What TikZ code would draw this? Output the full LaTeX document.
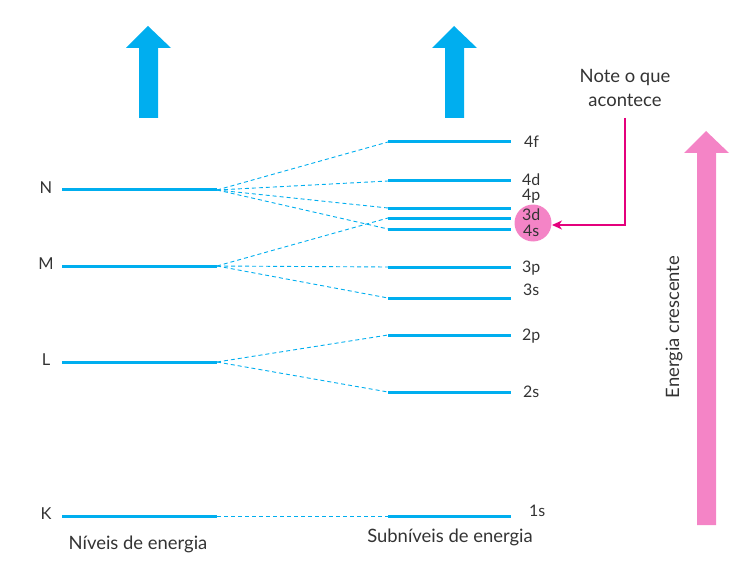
\documentclass[tikz,border=0pt]{standalone}
\usepackage{fontspec}
\setmainfont{Lato}
\usetikzlibrary{arrows.meta}
\definecolor{lvlblue}{HTML}{00AEEF}
\definecolor{arrpink}{HTML}{F484C6}
\definecolor{notemag}{HTML}{E4007C}
\definecolor{txt}{HTML}{333333}
\tikzset{
  level/.style={draw=lvlblue, line width=3bp},
  link/.style={draw=lvlblue, line width=0.9bp, dash pattern=on 4bp off 3bp},
  lab/.style={text=txt, font=\fontsize{16.5}{16.5}\selectfont, inner sep=0pt},
  biglab/.style={text=txt, font=\fontsize{18.5}{18.5}\selectfont, inner sep=0pt},
  sublab/.style={text=txt, font=\fontsize{16}{16}\selectfont, inner sep=0pt, anchor=west},
}
\begin{document}
\begin{tikzpicture}[x=1bp,y=-1bp]
\useasboundingbox (0,0) rectangle (738,578);
% blue arrows
\fill[lvlblue] (139,118) -- (139,48) -- (126,48) -- (148,26) -- (171,48) -- (158,48) -- (158,118) -- cycle;
\fill[lvlblue] (445,118) -- (445,48) -- (432,48) -- (454,26) -- (477,48) -- (464,48) -- (464,118) -- cycle;
% pink arrow
\fill[arrpink] (697,525) -- (697,153) -- (684,153) -- (706,131) -- (729,153) -- (716,153) -- (716,525) -- cycle;
\node[biglab, rotate=90] (ener) at (674,327) {Energia crescente};
% levels
\foreach \n/\y in {N/190,M/266,L/362,K/516}{
  \coordinate (a\n) at (62,\y);
  \coordinate (b\n) at (217,\y);
  \draw[level] (a\n) -- (b\n);
  \node[lab] (lab\n) at (46,\y-2) {\n};
}
% sublevels
\foreach \s/\y in {4f/142,4d/181,4p/208,3d/218,4s/229,3p/267,3s/298,2p/335,2s/392,1s/516}{
  \coordinate (sa\s) at (388,\y);
  \coordinate (sb\s) at (511,\y);
  \draw[level] (sa\s) -- (sb\s);
}
% pink circle
\fill[arrpink] (533,223) circle (18.5);
% sublevel labels
\node[sublab] (l4f) at (524,142) {4f};
\node[sublab] (l4d) at (522,180) {4d};
\node[sublab] (l4p) at (522,196.5) {4p};
\node[sublab] (l3d) at (522,215) {3d};
\node[sublab] (l4s) at (523,231) {4s};
\node[sublab] (l3p) at (522,268) {3p};
\node[sublab] (l3s) at (523,290) {3s};
\node[sublab] (l2p) at (522,336) {2p};
\node[sublab] (l2s) at (523,392) {2s};
\node[sublab] (l1s) at (529,511) {1s};
% dashed links
\foreach \t in {4f,4d,4p,4s}{\draw[link] (bN) -- (sa\t);}
\foreach \t in {3d,3p,3s}{\draw[link] (bM) -- (sa\t);}
\foreach \t in {2p,2s}{\draw[link] (bL) -- (sa\t);}
\draw[link] (bK) -- (sa1s);
% note
\node[biglab, align=center] (note) at (625,88) {Note o que\\[5bp]acontece};
\coordinate (nt) at (625,118);
\coordinate (nc) at (625,225);
\coordinate (tip) at (552,225);
\draw[notemag, line width=1.6bp, -{Stealth[length=10bp,width=9bp,inset=3bp]}] (nt) -- (nc) -- (tip);
% bottom labels
\node[biglab] (niv) at (138,544) {Níveis de energia};
\node[biglab] (sub) at (450,537) {Subníveis de energia};
\end{tikzpicture}
\end{document}
